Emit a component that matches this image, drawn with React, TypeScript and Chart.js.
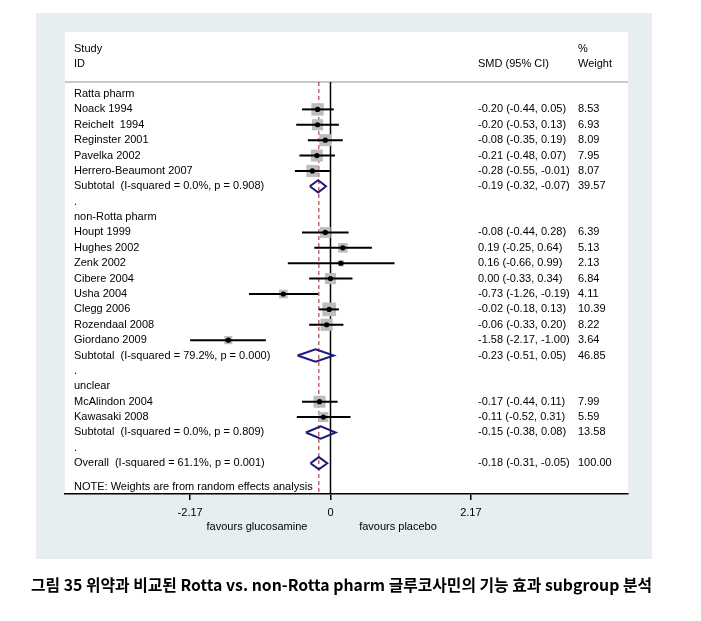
import React, { useEffect, useRef } from "react";
import { Chart, registerables } from "chart.js";

Chart.register(...registerables);

// ---------------- data ----------------
const rowLabels: string[] = [
  "Ratta pharm",
  "Noack 1994",
  "Reichelt  1994",
  "Reginster 2001",
  "Pavelka 2002",
  "Herrero-Beaumont 2007",
  "Subtotal  (I-squared = 0.0%, p = 0.908)",
  ".",
  "non-Rotta pharm",
  "Houpt 1999",
  "Hughes 2002",
  "Zenk 2002",
  "Cibere 2004",
  "Usha 2004",
  "Clegg 2006",
  "Rozendaal 2008",
  "Giordano 2009",
  "Subtotal  (I-squared = 79.2%, p = 0.000)",
  ".",
  "unclear",
  "McAlindon 2004",
  "Kawasaki 2008",
  "Subtotal  (I-squared = 0.0%, p = 0.809)",
  ".",
  "Overall  (I-squared = 61.1%, p = 0.001)",
];

// g = group heading, s = study, t = subtotal, b = blank, o = overall
const rowKinds: string[] = [
  "g", "s", "s", "s", "s", "s", "t", "b",
  "g", "s", "s", "s", "s", "s", "s", "s", "s", "t", "b",
  "g", "s", "s", "t", "b",
  "o",
];

const smd: (number | null)[] = [
  null, -0.2, -0.2, -0.08, -0.21, -0.28, -0.19, null,
  null, -0.08, 0.19, 0.16, 0.0, -0.73, -0.02, -0.06, -1.58, -0.23, null,
  null, -0.17, -0.11, -0.15, null,
  -0.18,
];

const ciLow: (number | null)[] = [
  null, -0.44, -0.53, -0.35, -0.48, -0.55, -0.32, null,
  null, -0.44, -0.25, -0.66, -0.33, -1.26, -0.18, -0.33, -2.17, -0.51, null,
  null, -0.44, -0.52, -0.38, null,
  -0.31,
];

const ciHigh: (number | null)[] = [
  null, 0.05, 0.13, 0.19, 0.07, -0.01, -0.07, null,
  null, 0.28, 0.64, 0.99, 0.34, -0.19, 0.13, 0.2, -1.0, 0.05, null,
  null, 0.11, 0.31, 0.08, null,
  -0.05,
];

const weights: (number | null)[] = [
  null, 8.53, 6.93, 8.09, 7.95, 8.07, 39.57, null,
  null, 6.39, 5.13, 2.13, 6.84, 4.11, 10.39, 8.22, 3.64, 46.85, null,
  null, 7.99, 5.59, 13.58, null,
  100.0,
];

const xTicks: number[] = [-2.17, 0, 2.17];

const headerStudy = ["Study", "ID"];
const headerSmd = "SMD (95% CI)";
const headerWeight = ["%", "Weight"];
const noteText = "NOTE: Weights are from random effects analysis";
const leftAxisLabel = "favours glucosamine";
const rightAxisLabel = "favours placebo";
const caption =
  "그림 35 위약과 비교된 Rotta vs. non-Rotta pharm 글루코사민의 기능 효과 subgroup 분석";

// ---------------- layout constants ----------------
const W = 701;
const H = 621;
const X_MIN = -4.105;
const X_MAX = 4.6;
const Y_MIN = -0.78;
const Y_MAX = 26.0;
const NOTE_ROW = 25.56;
const FONT = '"Liberation Sans", Arial, Helvetica, sans-serif';

export default function App() {
  const ref = useRef<HTMLCanvasElement | null>(null);

  useEffect(() => {
    document.body.style.margin = "0";
    const canvas = ref.current;
    if (!canvas) return;

    const datasets: any[] = [];

    // dots (on top)
    const dotData: any[] = [];
    rowKinds.forEach((k, i) => {
      if (k === "s") dotData.push({ x: smd[i], y: i });
    });
    datasets.push({
      data: dotData,
      pointRadius: 2.6,
      pointBackgroundColor: "#000",
      pointBorderWidth: 0,
      showLine: false,
      order: 0,
    });

    // CI lines
    rowKinds.forEach((k, i) => {
      if (k === "s") {
        datasets.push({
          data: [
            { x: ciLow[i], y: i },
            { x: ciHigh[i], y: i },
          ],
          showLine: true,
          borderColor: "#000",
          borderWidth: 2,
          pointRadius: 0,
          order: 1,
        });
      }
    });

    // diamonds
    rowKinds.forEach((k, i) => {
      if (k === "t" || k === "o") {
        const h = 0.4;
        datasets.push({
          data: [
            { x: ciLow[i], y: i },
            { x: smd[i], y: i - h },
            { x: ciHigh[i], y: i },
            { x: smd[i], y: i + h },
            { x: ciLow[i], y: i },
          ],
          showLine: true,
          borderColor: "#1c1c7a",
          borderWidth: 2,
          borderJoinStyle: "miter",
          pointRadius: 0,
          fill: false,
          tension: 0,
          order: 1,
        });
      }
    });

    // weight squares
    const sqData: any[] = [];
    const sqRadius: number[] = [];
    rowKinds.forEach((k, i) => {
      if (k === "s") {
        sqData.push({ x: smd[i], y: i });
        const side = 4.25 * Math.sqrt(weights[i] as number);
        sqRadius.push(side / Math.SQRT2);
      }
    });
    datasets.push({
      data: sqData,
      pointStyle: "rect",
      pointRadius: sqRadius,
      pointBackgroundColor: "#bdbdbd",
      pointBorderWidth: 0,
      showLine: false,
      order: 2,
    });

    // overall dashed line
    const overallIdx = rowKinds.indexOf("o");
    datasets.push({
      data: [
        { x: smd[overallIdx], y: Y_MIN },
        { x: smd[overallIdx], y: Y_MAX },
      ],
      showLine: true,
      borderColor: "#a3232b",
      borderWidth: 1,
      borderDash: [4, 3],
      pointRadius: 0,
      order: 3,
    });

    // zero line
    datasets.push({
      data: [
        { x: 0, y: Y_MIN },
        { x: 0, y: Y_MAX },
      ],
      showLine: true,
      borderColor: "#000",
      borderWidth: 1.5,
      pointRadius: 0,
      order: 3,
    });

    const bgPlugin = {
      id: "bg",
      beforeDraw(chart: any) {
        const ctx = chart.ctx;
        const a = chart.chartArea;
        ctx.save();
        ctx.fillStyle = "#ffffff";
        ctx.fillRect(0, 0, W, H);
        ctx.fillStyle = "#e6eef2";
        ctx.fillRect(36, 13, 616, 546);
        ctx.fillStyle = "#ffffff";
        ctx.fillRect(a.left, 32, a.right - a.left, a.bottom - 32);
        // header separator
        ctx.strokeStyle = "#c9c9c9";
        ctx.lineWidth = 2;
        ctx.beginPath();
        ctx.moveTo(a.left, a.top);
        ctx.lineTo(a.right, a.top);
        ctx.stroke();
        ctx.restore();
      },
    };

    const textPlugin = {
      id: "texts",
      afterDraw(chart: any) {
        const ctx = chart.ctx;
        const ys = chart.scales.y;
        const colLabel = 74;
        const colSmd = 478;
        const colW = 578;
        ctx.save();
        ctx.fillStyle = "#000";
        ctx.font = `11px ${FONT}`;
        ctx.textBaseline = "middle";
        ctx.textAlign = "left";
        // headers
        ctx.fillText(headerStudy[0], colLabel, 49);
        ctx.fillText(headerStudy[1], colLabel, 64);
        ctx.fillText(headerSmd, colSmd, 64);
        ctx.fillText(headerWeight[0], colW, 49);
        ctx.fillText(headerWeight[1], colW, 64);
        // rows
        rowLabels.forEach((lab, i) => {
          const y = ys.getPixelForValue(i);
          ctx.fillText(lab, colLabel, y);
          const e = smd[i];
          if (e !== null && rowKinds[i] !== "g") {
            const txt = `${(e as number).toFixed(2)} (${(ciLow[i] as number).toFixed(2)}, ${(ciHigh[i] as number).toFixed(2)})`;
            ctx.fillText(txt, colSmd, y);
            ctx.fillText((weights[i] as number).toFixed(2), colW, y);
          }
        });
        ctx.fillText(noteText, colLabel, ys.getPixelForValue(NOTE_ROW));
        // axis side labels
        ctx.textAlign = "center";
        ctx.fillText(leftAxisLabel, 257, 527);
        ctx.fillText(rightAxisLabel, 398, 527);
        // caption
        ctx.textAlign = "left";
        ctx.font = `bold 16px "Noto Sans CJK KR", sans-serif`;
        ctx.fillText(caption, 31, 585, 621);
        ctx.restore();
      },
    };

    const chart = new Chart(canvas, {
      type: "scatter",
      data: { datasets },
      options: {
        animation: false,
        responsive: false,
        devicePixelRatio: 1,
        layout: { padding: { left: 65, right: W - 628, top: 82, bottom: H - 494 - 40 } },
        plugins: { legend: { display: false }, tooltip: { enabled: false } },
        scales: {
          x: {
            type: "linear",
            min: X_MIN,
            max: X_MAX,
            afterBuildTicks: (scale: any) => {
              scale.ticks = xTicks.map((v) => ({ value: v }));
            },
            afterFit: (scale: any) => {
              scale.height = 40;
            },
            ticks: {
              callback: (v: any) => String(v),
              color: "#000",
              font: { family: FONT, size: 11 },
              padding: 6,
              maxRotation: 0,
              autoSkip: false,
            },
            grid: {
              display: true,
              drawOnChartArea: false,
              drawTicks: true,
              tickLength: 6,
              color: "#000",
              lineWidth: 1.5,
            },
            border: { display: true, color: "#000", width: 1.5 },
          },
          y: {
            type: "linear",
            min: Y_MIN,
            max: Y_MAX,
            reverse: true,
            display: false,
          },
        },
      },
      plugins: [bgPlugin, textPlugin],
    } as any);

    return () => chart.destroy();
  }, []);

  return (
    <canvas
      ref={ref}
      width={W}
      height={H}
      style={{ display: "block", width: W, height: H }}
    />
  );
}
